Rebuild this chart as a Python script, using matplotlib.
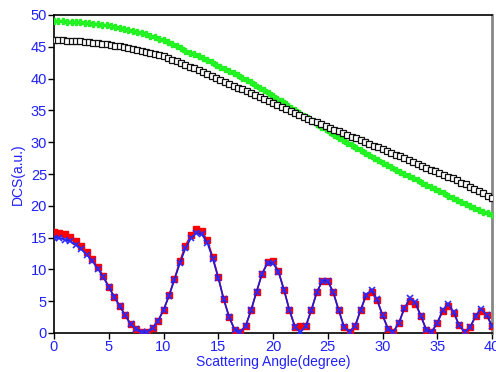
import numpy as np
import matplotlib
matplotlib.use("Agg")
import matplotlib.pyplot as plt

plt.rcParams['font.family'] = ['Liberation Sans', 'DejaVu Sans']

# Top curves (0.4 degree grid)
angle_top = np.linspace(0, 40, 101)
green_vals = [49.0, 49.0, 49.0, 48.95, 48.95, 48.9,
              48.85, 48.8, 48.75, 48.65, 48.6,
              48.5, 48.4, 48.3, 48.15, 48.0,
              47.85, 47.7, 47.55, 47.4, 47.2,
              46.95, 46.7, 46.5, 46.25, 46.0,
              45.7, 45.4, 45.05, 44.75, 44.4,
              44.1, 43.8, 43.5, 43.2, 42.9,
              42.55, 42.2, 41.85, 41.55, 41.2,
              40.85, 40.5, 40.15, 39.8, 39.4,
              39.0, 38.6, 38.15, 37.75, 37.3,
              36.85, 36.4, 35.95, 35.45, 35.0,
              34.6, 34.15, 33.75, 33.3, 32.9,
              32.45, 32.0, 31.55, 31.1, 30.7,
              30.3, 29.9, 29.5, 29.1, 28.7,
              28.3, 27.95, 27.55, 27.2, 26.8,
              26.45, 26.1, 25.7, 25.35, 25.0,
              24.65, 24.3, 24.0, 23.65, 23.3,
              22.95, 22.6, 22.3, 21.95, 21.6,
              21.3, 20.95, 20.65, 20.3, 20.0,
              19.7, 19.4, 19.1, 18.8, 18.5]
black_vals = [46.0, 46.0, 46.0, 45.95, 45.9, 45.9,
              45.85, 45.8, 45.7, 45.65, 45.6,
              45.5, 45.4, 45.3, 45.2, 45.1,
              44.95, 44.8, 44.7, 44.55, 44.4,
              44.2, 44.05, 43.85, 43.7, 43.5,
              43.25, 43.0, 42.75, 42.45, 42.2,
              41.9, 41.6, 41.3, 41.0, 40.7,
              40.4, 40.1, 39.8, 39.5, 39.2,
              38.9, 38.6, 38.3, 38.0, 37.7,
              37.4, 37.1, 36.8, 36.5, 36.2,
              35.85, 35.55, 35.2, 34.9, 34.6,
              34.3, 34.0, 33.7, 33.4, 33.1,
              32.8, 32.5, 32.25, 31.95, 31.7,
              31.4, 31.15, 30.85, 30.6, 30.3,
              30.0, 29.75, 29.45, 29.2, 28.9,
              28.6, 28.35, 28.05, 27.8, 27.5,
              27.2, 26.9, 26.6, 26.3, 26.0,
              25.7, 25.4, 25.15, 24.85, 24.6,
              24.3, 24.0, 23.65, 23.35, 23.0,
              22.65, 22.3, 21.95, 21.55, 21.2]

# Oscillating curves (0.5 degree grid)
angle_low = np.linspace(0, 40, 81)
red_vals = [15.9, 15.8, 15.5, 15.1, 14.5, 13.7, 12.7, 11.6, 10.3, 9.0,
            7.3, 5.7, 4.3, 2.8, 1.4, 0.7, 0.2, 0.2, 0.8, 1.9,
            3.6, 5.9, 8.5, 11.3, 13.7, 15.4, 16.3, 16.0, 14.6, 11.9,
            8.8, 5.3, 2.5, 0.5, 0.2, 1.1, 3.6, 6.5, 9.3, 11.1,
            11.3, 9.7, 6.8, 3.6, 1.0, 1.1, 1.1, 3.6, 6.4, 8.2,
            8.2, 6.4, 3.6, 0.9, 0.2, 1.1, 3.6, 5.8, 6.4, 5.2,
            2.8, 0.7, 0.2, 1.6, 3.9, 5.1, 4.6, 2.7, 0.5, 0.2,
            1.6, 3.4, 4.3, 3.2, 1.2, 0.2, 0.9, 2.6, 3.5, 2.8,
            1.1]
blue_vals = [15.0, 14.9, 14.7, 14.4, 13.9, 13.2, 12.3, 11.3, 10.1, 8.8,
             7.2, 5.7, 4.2, 2.8, 1.4, 0.6, 0.15, 0.15, 0.8, 1.9,
             3.6, 5.8, 8.4, 11.0, 13.3, 14.9, 15.7, 15.5, 14.2, 11.7,
             8.7, 5.3, 2.5, 0.5, 0.2, 1.1, 3.6, 6.5, 9.3, 11.0,
             11.0, 9.6, 6.8, 3.6, 1.0, 0.1, 1.1, 3.6, 6.4, 8.2,
             8.2, 6.4, 3.6, 0.9, 0.2, 1.1, 3.6, 6.0, 6.7, 5.3,
             2.8, 0.7, 0.2, 1.6, 3.9, 5.5, 4.8, 2.7, 0.5, 0.2,
             1.6, 3.6, 4.6, 3.3, 1.2, 0.2, 0.9, 2.7, 3.8, 2.9,
             1.1]

x_ticks = [0, 5, 10, 15, 20, 25, 30, 35, 40]
y_ticks = [0, 5, 10, 15, 20, 25, 30, 35, 40, 45, 50]

fig = plt.figure(figsize=(4.96, 3.72), dpi=100)
ax = fig.add_axes([54/496, 1-333/372, (492-54)/496, (333-15)/372])

ax.plot(angle_top, green_vals, linestyle='-', color='#22ff22', linewidth=1.5,
        marker='P', markersize=4.2, markerfacecolor='#22ff22',
        markeredgecolor='#22ee22', zorder=3)
ax.plot(angle_top, black_vals, linestyle='none', marker='s', markersize=4.4,
        markerfacecolor='white', markeredgecolor='#111111', markeredgewidth=0.9,
        zorder=4)
ax.plot(angle_low, red_vals, linestyle='-', color='red', linewidth=1.2,
        marker='s', markersize=5.0, markerfacecolor='red',
        markeredgecolor='red', zorder=5)
ax.plot(angle_low, blue_vals, linestyle='-', color='#1a1ad8', linewidth=1.2,
        marker='x', markersize=4.5, markeredgecolor='#2a2aff',
        markeredgewidth=1.2, zorder=6)

ax.set_xlim(0, 40)
ax.set_ylim(0, 50)
ax.set_xticks(x_ticks)
ax.set_yticks(y_ticks)
ax.tick_params(direction='out', length=4, width=1, colors='black',
               labelcolor='#2020ff', labelsize=10.5, pad=1)
for s in ['left', 'bottom', 'top']:
    ax.spines[s].set_color('black')
    ax.spines[s].set_linewidth(1.2)
ax.spines['right'].set_color('#888888')
ax.spines['right'].set_linewidth(2)
ax.set_xlabel('Scattering Angle(degree)', color='#2020ff', fontsize=10, labelpad=1)
ax.set_ylabel('DCS(a.u.)', color='#2020ff', fontsize=10, labelpad=4)

fig.savefig('out.png', dpi=100)
